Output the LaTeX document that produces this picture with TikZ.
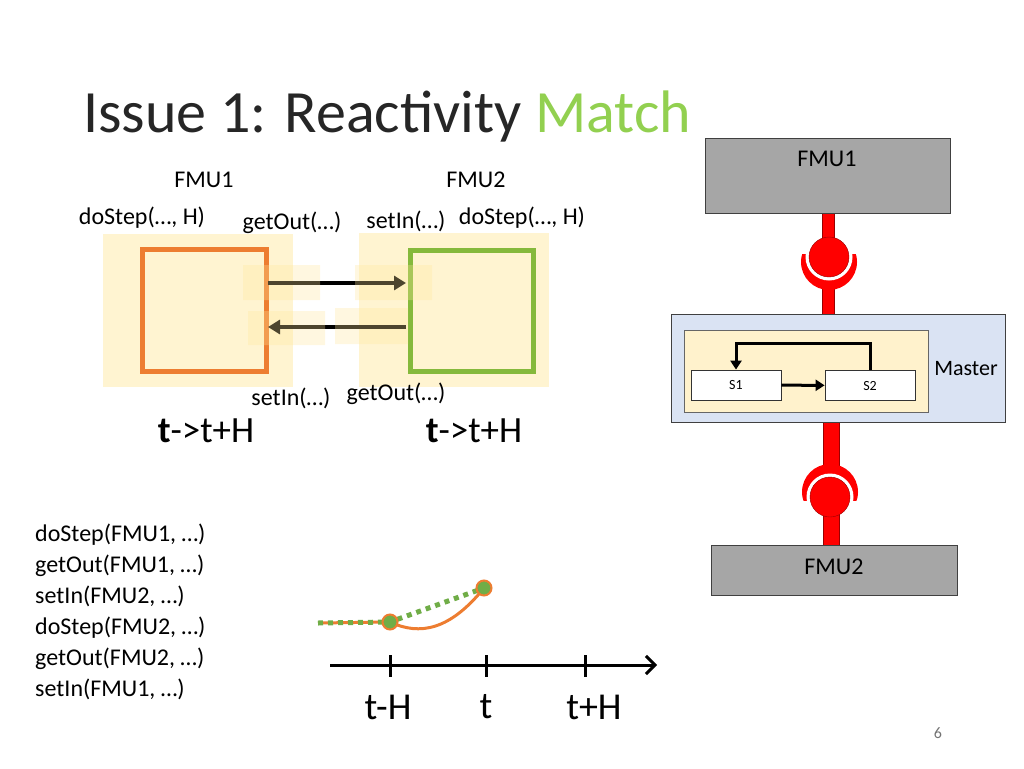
\documentclass[tikz,border=0pt]{standalone}
\usepackage{fontspec}
\setmainfont{Carlito}
\usetikzlibrary{arrows.meta}
\definecolor{hl}{HTML}{FFE699}
\definecolor{lblue}{HTML}{DAE3F3}
\definecolor{lyel}{HTML}{FFF2CC}
\definecolor{org}{HTML}{ED7D31}
\definecolor{grn}{HTML}{70AD47}
\definecolor{titlegrn}{HTML}{92D050}
\definecolor{gbox}{HTML}{A6A6A6}
\begin{document}
\begin{tikzpicture}[x=1pt,y=-1pt,
  lbl/.style={inner sep=0pt,font=\fontsize{24}{26}\selectfont},
  big/.style={inner sep=0pt,font=\fontsize{38}{40}\selectfont},
  hlr/.style={fill=hl,opacity=0.45},
  fmu/.style={draw=black!75,fill=gbox,line width=1pt},
  sbox/.style={draw=black!80,fill=white,line width=0.8pt,minimum width=90pt,minimum height=30pt,inner sep=0pt,font=\fontsize{14}{15}\selectfont},
  darr/.style={line width=4pt,black,-{Triangle[length=12pt,width=14pt]}},
  red bar/.style={fill=red,draw=red!60!black,line width=0.4pt}]
\useasboundingbox (0,0) rectangle (1024,768);
% title
\node[anchor=base west,inner sep=0pt,text=black!85,font=\fontsize{60}{62}\selectfont] (title) at (83,132) {Issue 1: Reactivity \textcolor{titlegrn}{Match}};
% left diagram
\node[lbl] (f1) at (204,180) {FMU1};
\node[lbl] (f2) at (476,180) {FMU2};
\node[lbl] (ds1) at (142,218) {doStep(…, H)};
\node[lbl] (go1) at (292,223) {getOut(…)};
\node[lbl] (si1) at (406,221) {setIn(…)};
\node[lbl] (ds2) at (522,218) {doStep(…, H)};
\fill[hlr] (103,234) rectangle (293,387);
\fill[hlr] (359,233) rectangle (549,387);
\node[draw=org,line width=5pt,minimum width=124pt,minimum height=122pt,inner sep=0pt] (b1) at (204,310) {};
\node[draw=grn!85!yellow,line width=5pt,minimum width=123pt,minimum height=121pt,inner sep=0pt] (b2) at (471.5,310.5) {};
\coordinate (a1s) at (268,283); \coordinate (a1e) at (406,283);
\coordinate (a2s) at (406,327); \coordinate (a2e) at (268,327);
\draw[darr] (a1s) -- (a1e);
\draw[darr] (a2s) -- (a2e);
\fill[hl,opacity=0.3] (243,265) rectangle (320,300) (355,265) rectangle (432,300) (248,311) rectangle (325,345) (335,308) rectangle (408,344);
\node[lbl] (si2) at (291,398) {setIn(…)};
\node[lbl] (go2) at (396,394) {getOut(…)};
\node[inner sep=0pt,font=\fontsize{37}{40}\selectfont] (tt1) at (206,431) {\textbf{t}->t+H};
\node[inner sep=0pt,font=\fontsize{37}{40}\selectfont] (tt2) at (474,431) {\textbf{t}->t+H};
% list
\node[anchor=north west,inner sep=0pt,align=left,font=\fontsize{24}{31}\selectfont] (list) at (35,524) {doStep(FMU1, …)\\getOut(FMU1, …)\\setIn(FMU2, …)\\doStep(FMU2, …)\\getOut(FMU2, …)\\setIn(FMU1, …)};
% curve & timeline
\coordinate (c0) at (318,623);
\coordinate (p1) at (390,622);
\coordinate (p2) at (484,588);
\draw[org,line width=3pt] (c0) -- (p1) .. controls (420,636) and (450,630) .. (p2);
\draw[grn,line width=5pt,dash pattern=on 5pt off 5pt] (c0) -- (p1) -- (p2);
\node[circle,fill=grn,draw=org,line width=2pt,minimum size=15pt,inner sep=0pt] (d1) at (p1) {};
\node[circle,fill=grn,draw=org,line width=2pt,minimum size=15pt,inner sep=0pt] (d2) at (p2) {};
\coordinate (ax0) at (330,665); \coordinate (ax1) at (657,665);
\draw[line width=3pt,-{Straight Barb[length=9pt,width=18pt]}] (ax0) -- (ax1);
\foreach \x in {390,486,585} \draw[line width=3pt] (\x,655) -- (\x,677);
\node[big] (l1) at (388,707) {t-H};
\node[big] (l2) at (486,707) {t};
\node[big] (l3) at (594,707) {t+H};
% right diagram
\draw[red bar] (822,213) rectangle (834,315);
\draw[red bar] (823,422) rectangle (839,545);
\node[fmu,minimum width=245pt,minimum height=75pt,inner sep=0pt] (F1) at (827.5,175.5) {};
\node[lbl] at (827,159) {FMU1};
\node[fmu,minimum width=246pt,minimum height=50pt,inner sep=0pt] (F2) at (834,570) {};
\node[lbl] at (834,567) {FMU2};
% upper ball/socket
\begin{scope}
\clip (790,254) rectangle (870,300);
\fill[red] (829,262) circle (28);
\fill[white] (829,257) circle (23.5);
\end{scope}
\fill[red,draw=red!60!black,line width=0.4pt] (829,257) circle (20);
% lower ball/socket
\begin{scope}
\clip (790,460) rectangle (870,500);
\fill[red] (830,492) circle (28);
\fill[white] (830,497) circle (23.5);
\end{scope}
\fill[red,draw=red!60!black,line width=0.4pt] (830,497) circle (20);
% master
\node[draw=black!75,fill=lblue,line width=1pt,minimum width=334pt,minimum height=108pt,inner sep=0pt] (M) at (838,368) {};
\node[draw=black!60,fill=lyel,line width=0.8pt,minimum width=244pt,minimum height=82pt,inner sep=0pt] (Min) at (806,371) {};
\node[inner sep=0pt,font=\fontsize{22}{24}\selectfont] (ml) at (966,369) {Master};
\node[sbox] (S1) at (736,385) {S1};
\node[sbox] (S2) at (870,385.5) {S2};
\draw[line width=3pt,-{Triangle[length=9pt,width=11pt]}] (S1) -- (S2);
\draw[line width=3pt,-{Triangle[length=9pt,width=11pt]}] (S2.north) |- (800,343) -| (S1.north);
% page number
\node[inner sep=0pt,text=black!55,font=\fontsize{16}{18}\selectfont] (pg) at (938,733) {6};
\end{tikzpicture}
\end{document}
